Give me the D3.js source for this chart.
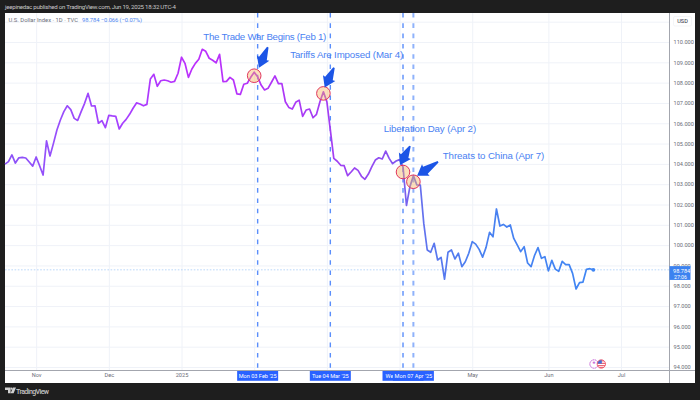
<!DOCTYPE html>
<html>
<head>
<meta charset="utf-8">
<script src="https://cdn.jsdelivr.net/npm/d3@7"></script>
<style>
  html, body { margin: 0; padding: 0; background: #1e1e1e; overflow: hidden; }
  svg { display: block; font-family: Roboto, sans-serif; }
  .domain { display: none; }
</style>
</head>
<body>
<script>
// daily closes
const closes = [103.99,104.11,104.44,104.04,104.30,104.32,104.29,104.09,103.89,104.34,103.91,103.45,105.13,104.39,105.01,105.67,106.16,106.57,106.86,106.67,
  106.24,106.14,106.57,106.98,107.47,106.85,106.86,106.00,106.13,105.78,106.39,106.36,106.34,105.72,106.00,106.19,106.44,106.74,107.00,106.95,
  106.86,106.93,108.18,108.41,107.82,108.09,108.13,108.09,108.02,108.06,108.46,109.25,108.95,108.26,108.67,108.95,109.15,109.64,109.54,109.20,
  109.10,108.97,109.39,108.05,108.06,108.26,108.13,107.45,107.42,107.92,107.97,108.26,108.51,108.29,107.88,107.64,107.72,108.02,108.33,107.95,
  107.95,107.06,106.78,106.70,107.03,107.14,106.34,106.65,106.70,106.27,106.44,107.06,107.55,107.06,105.67,104.27,104.13,103.93,103.91,103.42,
  103.60,103.80,103.68,103.39,103.24,103.50,103.86,104.19,104.30,104.24,104.63,104.27,104.01,104.14,104.21,103.85,101.95,102.88,103.42,102.96,
  102.96,101.07,99.76,99.65,100.09,99.27,99.40,98.32,99.65,99.76,99.32,99.60,98.94,99.18,99.60,100.17,100.05,99.79,99.41,99.89,
  100.63,100.41,101.78,100.94,101.02,100.89,100.99,100.33,100.01,99.68,99.92,99.12,98.94,99.49,99.88,99.35,99.43,98.73,99.25,98.82,
  98.71,99.20,99.04,99.04,98.61,97.84,98.15,98.18,98.81,98.84,98.784];
const lastBar = closes.length - 1;

const monthBars = [9, 30, 51, 72, 93, 114, 135, 157, 178];
const monthLabels = ["Nov", "Dec", "2025", "", "", "", "May", "Jun", "Jul"];
const priceTicks = d3.range(94, 111);

const eventBars = [73, 94, 115, 118];
// the Apr 2 date is mostly covered by the Apr 7 one, only "We" shows
const eventDates = ["Mon 03 Feb '25", "Tue 04 Mar '25", "We", "Mon 07 Apr '25"];
const eventTitles = ["The Trade War Begins (Feb 1)", "Tariffs Are Imposed (Mar 4)", "Liberation Day (Apr 2)", "Threats to China (Apr 7)"];
const titleBars = [57.3, 82.4, 109.4, 126.5];
const titlePrices = [110.1, 109.2, 105.55, 104.25];
const circleBars = [72, 92, 115, 118];
const circlePrices = [108.34, 107.47, 103.6, 103.12];

const w = 700;
const h = 400;
const paneL = 5, paneR = 669.5, paneT = 13, paneB = 370.5, outerR = 695, outerB = 383;

const svg = d3.select("body").append("svg").attr("width", w).attr("height", h);
const x = d3.scaleLinear().domain([0, 192]).range([paneL, paneR]);
const y = d3.scaleLinear().domain([94, 110]).range([367, 42]);

svg.append("rect").attr("width", w).attr("height", h).attr("fill", "#1e1e1e");
svg.append("rect").attr("x", paneL).attr("y", paneT).attr("width", outerR - paneL).attr("height", outerB - paneT).attr("fill", "#fff");

// gridlines
svg.append("g").attr("transform", "translate(0," + paneB + ")")
  .call(d3.axisBottom(x).tickValues(monthBars).tickSize(paneT - paneB).tickFormat(""))
  .call(g => g.selectAll("line").attr("stroke", "#eff2f8"));
svg.append("g").attr("transform", "translate(" + paneL + ",0)")
  .call(d3.axisRight(y).tickValues(d3.range(94, 112)).tickSize(paneR - paneL).tickFormat(""))
  .call(g => g.selectAll("line").attr("stroke", "#eff2f8"));

// event markers
svg.selectAll(".vline").data(eventBars).enter().append("line")
  .attr("x1", d => x(d)).attr("x2", d => x(d))
  .attr("y1", paneT).attr("y2", paneB)
  .attr("stroke", (d, i) => i == 3 ? "#8fb2fb" : "#5a8efb")
  .attr("stroke-width", (d, i) => i == 3 ? 2 : 1.4)
  .attr("stroke-dasharray", "4.6 5.7");

// last price line
svg.append("line").attr("x1", paneL).attr("x2", paneR)
  .attr("y1", y(98.784)).attr("y2", y(98.784))
  .attr("stroke", "#a9cdf8").attr("stroke-width", 0.8).attr("stroke-dasharray", "1.6 1.6");

// line colour drifts from purple to blue
const defs = svg.append("defs");
const grad = defs.append("linearGradient").attr("id", "lineGrad")
  .attr("gradientUnits", "userSpaceOnUse")
  .attr("x1", paneL).attr("x2", x(lastBar)).attr("y1", 0).attr("y2", 0);
[[0, "#8b52f7"], [0.08, "#9650fb"], [0.2, "#a63fff"], [0.32, "#bc2ffc"], [0.44, "#b234f8"], [0.56, "#a23ff3"], [0.65, "#8b50f0"], [0.68, "#7a60ee"], [0.72, "#5c76ee"], [0.8, "#4a80f0"], [1, "#3f86f4"]]
  .forEach(s => grad.append("stop").attr("offset", s[0]).attr("stop-color", s[1]));

svg.append("path").datum(closes)
  .attr("fill", "none").attr("stroke", "url(#lineGrad)")
  .attr("stroke-width", 1.7).attr("stroke-linejoin", "round")
  .attr("d", d3.line().x((d, i) => x(i)).y(d => y(d)));
svg.append("circle").attr("cx", x(lastBar)).attr("cy", y(closes[lastBar])).attr("r", 1.9).attr("fill", "#3f86f4");

// circles round the turning points
svg.selectAll(".ring").data(circleBars).enter().append("circle")
  .attr("cx", d => x(d)).attr("cy", (d, i) => y(circlePrices[i])).attr("r", 6.8)
  .attr("fill", "#f7b35e").attr("fill-opacity", 0.42)
  .attr("stroke", "#e0365f").attr("stroke-width", 1);

// arrows, offsets are from the circle centre: tip then tail
const arrowOffsets = [[4.8, -8, 13.6, -28.6], [1.3, -5.8, 10.6, -25.8], [-3, -7, 7, -26], [3.7, -5.9, 24.7, -20]];
function arrowPath(tx, ty, bx, by) {
  const dx = bx - tx, dy = by - ty, len = Math.hypot(dx, dy);
  const ux = dx / len, uy = dy / len, nx = -uy, ny = ux;
  const pt = (along, side) => [tx + ux * along + nx * side, ty + uy * along + ny * side];
  const pts = [pt(0, 0), pt(10.5, 6.8), pt(10, 4.2), pt(len, 0.8), pt(len, -0.8), pt(10, -4.2), pt(10.5, -6.8)];
  return "M" + pts.map(p => p.join(",")).join("L") + "Z";
}
svg.selectAll(".arrow").data(circleBars).enter().append("path")
  .attr("fill", "#1c55e6")
  .attr("d", (d, i) => {
    const o = arrowOffsets[i], cx = x(d), cy = y(circlePrices[i]);
    return arrowPath(cx + o[0], cy + o[1], cx + o[2], cy + o[3]);
  });

// titles
svg.selectAll(".title").data(eventTitles).enter().append("text")
  .attr("x", (d, i) => x(titleBars[i])).attr("y", (d, i) => y(titlePrices[i]))
  .attr("fill", "#4a7ff2").attr("font-size", 9.7)
  .attr("font-family", "'Liberation Sans', sans-serif")
  .attr("textLength", (d, i) => [123, 113, 92.5, 101.5][i])
  .attr("lengthAdjust", "spacing")
  .text(d => d);

// panel frame
svg.append("line").attr("x1", paneL).attr("x2", outerR).attr("y1", paneB).attr("y2", paneB).attr("stroke", "#a3a6ae").attr("stroke-width", 1);
svg.append("line").attr("x1", paneR).attr("x2", paneR).attr("y1", paneT).attr("y2", outerB).attr("stroke", "#a3a6ae").attr("stroke-width", 1);

// time axis
svg.append("g").attr("transform", "translate(0," + paneB + ")")
  .call(d3.axisBottom(x).tickValues(monthBars).tickSize(0).tickPadding(3).tickFormat((d, i) => monthLabels[i]))
  .call(g => g.selectAll("text").attr("fill", "#6a6d78").attr("font-size", 5.6).attr("font-family", "Roboto, sans-serif"));

// price axis
svg.append("g").attr("transform", "translate(" + paneR + ",0)")
  .call(d3.axisRight(y).tickValues(priceTicks).tickSize(0).tickPadding(4).tickFormat(d3.format(".3f")))
  .call(g => g.selectAll("text").attr("fill", "#6a6d78").attr("font-size", 5.6).attr("font-family", "Roboto, sans-serif"));

// date flags on the time axis
const flags = svg.selectAll(".flag").data(eventBars).enter().append("g")
  .attr("transform", d => "translate(" + x(d) + "," + (paneB + 0.5) + ")");
flags.append("rect").attr("x", -20.5).attr("y", 0).attr("width", 41).attr("height", 9.8).attr("fill", "#2962ff");
flags.append("text").attr("x", (d, i) => i == 2 ? -17.5 : 0).attr("y", 7)
  .attr("text-anchor", (d, i) => i == 2 ? "start" : "middle").attr("fill", "#fff").attr("font-size", 5.6)
  .text((d, i) => eventDates[i]);

// price tag
svg.append("rect").attr("x", paneR).attr("y", y(98.784) - 3.7).attr("width", 21).attr("height", 13.8).attr("fill", "#3c82f0");
svg.append("text").attr("x", paneR + 3.5).attr("y", y(98.784) + 2.8).attr("fill", "#fff").attr("font-size", 5.6).text("98.784");
svg.append("text").attr("x", paneR + 4.5).attr("y", y(98.784) + 8.8).attr("fill", "#fff").attr("font-size", 5.2).text("27:06");

// USD button
svg.append("rect").attr("x", 673.5).attr("y", 16.5).attr("width", 18).attr("height", 9.5).attr("rx", 1.5).attr("fill", "#fff").attr("stroke", "#eceef2").attr("stroke-width", 0.6);
svg.append("text").attr("x", 682.5).attr("y", 23).attr("text-anchor", "middle").attr("fill", "#2a2e39").attr("font-size", 5.6).text("USD");

// header and legend
svg.append("text").attr("x", 5).attr("y", 9).attr("fill", "#c8c8c8").attr("font-size", 6.1).attr("textLength", 171)
  .text("jeepinedac published on TradingView.com, Jun 19, 2025 18:32 UTC-4");
svg.append("text").attr("x", 8.5).attr("y", 22).attr("fill", "#6a6d78").attr("font-size", 5.8).attr("textLength", 69.5)
  .text("U.S. Dollar Index · 1D · TVC");
svg.append("text").attr("x", 82).attr("y", 22).attr("fill", "#4c86f0").attr("font-size", 5.8).attr("textLength", 60)
  .text("98.784  −0.066 (−0.07%)");

// calendar icons near the bottom
const iconY = 364;
svg.append("circle").attr("cx", x(170.2)).attr("cy", iconY).attr("r", 4.2).attr("fill", "#fff").attr("stroke", "#c04fd0").attr("stroke-width", 0.9).attr("stroke-dasharray", "1.6 0.6");
svg.append("text").attr("x", x(170.2)).attr("y", iconY + 2.4).attr("text-anchor", "middle").attr("fill", "#c04fd0").attr("font-size", 7).text("*");
const flagX = x(172.3);
defs.append("clipPath").attr("id", "flagClip").append("circle").attr("cx", flagX).attr("cy", iconY).attr("r", 4.2);
const icon = svg.append("g").attr("clip-path", "url(#flagClip)");
icon.append("rect").attr("x", flagX - 5).attr("y", iconY - 5).attr("width", 10).attr("height", 10).attr("fill", "#fff");
[-3.6, -1.2, 1.2, 3.2].forEach(o => icon.append("rect").attr("x", flagX - 5).attr("y", iconY + o).attr("width", 10).attr("height", 1).attr("fill", "#e8485a"));
icon.append("rect").attr("x", flagX - 5).attr("y", iconY - 5).attr("width", 5.5).attr("height", 4.6).attr("fill", "#3f6fd8");
svg.append("circle").attr("cx", flagX).attr("cy", iconY).attr("r", 4.2).attr("fill", "none").attr("stroke", "#ef5a6c").attr("stroke-width", 0.9);

// TradingView logo
const logo = svg.append("g").attr("fill", "#d0d0d0");
logo.append("path").attr("d", "M5 387.5h5.6v5.8h-2.6v-3.4H5ZM13 387.5h3l-2.4 5.8h-3Z");
logo.append("circle").attr("cx", 11.6).attr("cy", 388.7).attr("r", 1.1);
svg.append("text").attr("x", 16).attr("y", 394).attr("fill", "#c4c4c4").attr("font-size", 7).attr("font-weight", 500).attr("textLength", 33).text("TradingView");
</script>
</body>
</html>
